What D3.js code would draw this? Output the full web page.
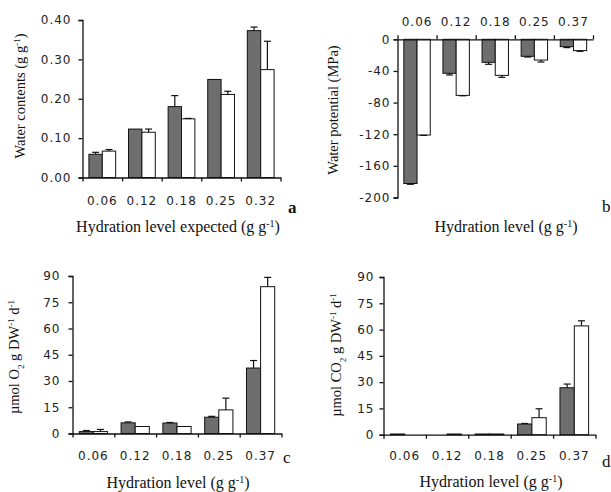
<!DOCTYPE html>
<html>
<head>
<meta charset="utf-8">
<script src="https://cdn.jsdelivr.net/npm/d3@7"></script>
<style>
  body { margin: 0; background: #fff; }
  .tick text { font-family: "DejaVu Sans", sans-serif; font-size: 12px; fill: #222; letter-spacing: 1px; }
  .ttl { font-family: "Liberation Serif", "Times New Roman", serif; fill: #111; }
</style>
</head>
<body>
<svg id="chart" width="611" height="492"></svg>
<script>
// categories
var levelsA = ["0.06", "0.12", "0.18", "0.25", "0.32"];
var levels = ["0.06", "0.12", "0.18", "0.25", "0.37"];

// a : water contents (g g-1)
var waterGray = [0.059, 0.123, 0.180, 0.249, 0.373],
    waterGrayErr = [0.005, 0, 0.028, 0, 0.009];
var waterWhite = [0.067, 0.115, 0.149, 0.211, 0.274],
    waterWhiteErr = [0.004, 0.008, 0.001, 0.008, 0.072];

// b : water potential (MPa)
var potGray = [-182.3, -43, -29.1, -21.5, -9.3],
    potGrayErr = [1, 2.1, 2.5, 0.9, 1.2];
var potWhite = [-121, -70.9, -45.6, -26.2, -14.3],
    potWhiteErr = [0.5, 0.5, 2.5, 2.5, 0.9];

// c : O2
var o2Gray = [1.1, 6.1, 6.0, 9.3, 37.4],
    o2GrayErr = [0.6, 0.5, 0.3, 0.5, 4.3];
var o2White = [1.1, 4.0, 4.0, 13.5, 83.9],
    o2WhiteErr = [1.2, 0, 0, 6.7, 5.3];

// d : CO2
var co2Gray = [0.4, 0, 0.4, 6.1, 26.8],
    co2GrayErr = [0, 0, 0, 0.3, 2.1];
var co2White = [0, 0.4, 0.4, 9.7, 62.1],
    co2WhiteErr = [0, 0, 0, 5.1, 2.9];

var ticksA = [0, 0.1, 0.2, 0.3, 0.4],
    ticksB = [0, -40, -80, -120, -160, -200],
    ticksCD = [0, 15, 30, 45, 60, 75, 90];

var svg = d3.select("#chart");
var grayFill = "#6e6e6e";

function drawPanel(p) {
  var g = svg.append("g");
  var x = d3.scaleBand().domain(p.cats).range(p.xr);
  var inner = d3.scaleBand().domain(["g", "w"]).range([0, x.bandwidth()]).paddingOuter(0.48);
  var y = d3.scaleLinear().domain(p.yd).range(p.yr);
  var y0 = y(0);

  var rows = [];
  p.cats.forEach(function(c, i) {
    rows.push({c: c, s: "g", v: p.gray[i], e: p.grayErr[i]});
    rows.push({c: c, s: "w", v: p.white[i], e: p.whiteErr[i]});
  });

  g.selectAll("rect.bar").data(rows).enter().append("rect")
    .attr("class", "bar")
    .attr("x", function(d) { return x(d.c) + inner(d.s); })
    .attr("width", inner.bandwidth())
    .attr("y", function(d) { return Math.min(y(d.v), y0); })
    .attr("height", function(d) { return Math.abs(y(d.v) - y0); })
    .attr("fill", function(d) { return d.s == "g" ? grayFill : "#fff"; })
    .attr("stroke", "#111")
    .attr("stroke-width", 1);

  // error bars (one-sided, away from zero)
  var errs = rows.filter(function(d) { return d.e > 0; });
  var end = function(d) { return y(d.v + (d.v < 0 ? -d.e : d.e)); };
  var cx = function(d) { return x(d.c) + inner(d.s) + inner.bandwidth() / 2; };
  g.selectAll("line.err").data(errs).enter().append("line")
    .attr("class", "err")
    .attr("x1", cx).attr("x2", cx)
    .attr("y1", function(d) { return y(d.v); }).attr("y2", end)
    .attr("stroke", "#111").attr("stroke-width", 1.2);
  g.selectAll("line.cap").data(errs).enter().append("line")
    .attr("class", "cap")
    .attr("x1", function(d) { return cx(d) - 3.5; }).attr("x2", function(d) { return cx(d) + 3.5; })
    .attr("y1", end).attr("y2", end)
    .attr("stroke", "#111").attr("stroke-width", 1.2);

  // y axis
  g.append("g").attr("transform", "translate(" + p.xr[0] + ",0)")
    .call(d3.axisLeft(y).tickValues(p.yticks).tickFormat(p.fmt).tickSize(4).tickPadding(p.ypad))
    .call(function(a) { a.selectAll("path, line").attr("stroke", "#111").attr("stroke-width", 1.3); });

  // x axis: labels at band centres, ticks at band edges
  var top = p.top;
  var xa = top ? d3.axisTop(x) : d3.axisBottom(x);
  g.append("g").attr("transform", "translate(0," + y0 + ")")
    .call(xa.tickSize(0).tickPadding(p.xpad))
    .call(function(a) { a.select(".domain").attr("stroke", "#111").attr("stroke-width", 1.3); });
  var edge = d3.scaleLinear().domain([0, p.cats.length]).range(p.xr);
  var ea = top ? d3.axisTop(edge) : d3.axisBottom(edge);
  g.append("g").attr("transform", "translate(0," + y0 + ")")
    .call(ea.ticks(p.cats.length).tickFormat("").tickSize(4).tickSizeOuter(0))
    .call(function(a) {
      a.select(".domain").remove();
      a.selectAll("line").attr("stroke", "#111").attr("stroke-width", 1.3);
    });

  // titles
  var yt = g.append("text").attr("class", "ttl")
    .attr("transform", "translate(" + p.ytPos[0] + "," + p.ytPos[1] + ") rotate(-90)")
    .attr("text-anchor", "middle").style("font-size", "14.5px");
  p.ytitle.forEach(function(t) {
    var s = yt.append("tspan").text(t[0]);
    if (t[1] == "sup") s.attr("baseline-shift", "super").style("font-size", "9px");
    if (t[1] == "sub") s.attr("baseline-shift", "sub").style("font-size", "9px");
  });

  var xt = g.append("text").attr("class", "ttl")
    .attr("x", p.xtPos[0]).attr("y", p.xtPos[1])
    .attr("text-anchor", "middle").style("font-size", "16px");
  xt.append("tspan").text(p.xtitle);
  xt.append("tspan").text("-1").attr("baseline-shift", "super").style("font-size", "10px");
  xt.append("tspan").text(")");

  g.append("text").attr("class", "ttl")
    .attr("x", p.letterPos[0]).attr("y", p.letterPos[1])
    .style("font-size", "17px").style("font-weight", p.bold ? "bold" : "normal")
    .text(p.letter);
}

drawPanel({
  cats: levelsA, gray: waterGray, grayErr: waterGrayErr, white: waterWhite, whiteErr: waterWhiteErr,
  xr: [82.5, 280.5], yd: [0, 0.4], yr: [177.5, 20], yticks: ticksA, fmt: d3.format(".2f"),
  ypad: 7, xpad: 18.5, top: false,
  ytitle: [["Water contents (g g"], ["-1", "sup"], [")"]], ytPos: [25, 96],
  xtitle: "Hydration level expected (g g", xtPos: [178, 232],
  letter: "a", letterPos: [288, 213], bold: true
});

drawPanel({
  cats: levels, gray: potGray, grayErr: potGrayErr, white: potWhite, whiteErr: potWhiteErr,
  xr: [397.5, 593], yd: [0, -200], yr: [39.3, 197.5], yticks: ticksB, fmt: function(d) { return String(d); },
  ypad: 3, xpad: 13, top: true,
  ytitle: [["Water potential (MPa)"]], ytPos: [338, 110],
  xtitle: "Hydration level (g g", xtPos: [506, 232],
  letter: "b", letterPos: [602, 212], bold: false
});

drawPanel({
  cats: levels, gray: o2Gray, grayErr: o2GrayErr, white: o2White, whiteErr: o2WhiteErr,
  xr: [72.5, 281.5], yd: [0, 90], yr: [433.5, 276], yticks: ticksCD, fmt: function(d) { return String(d); },
  ypad: 8, xpad: 17.5, top: false,
  ytitle: [["\u00b5mol O"], ["2", "sub"], [" g DW"], ["-1", "sup"], [" d"], ["-1", "sup"]], ytPos: [19, 357],
  xtitle: "Hydration level (g g", xtPos: [178, 488],
  letter: "c", letterPos: [283, 463], bold: false
});

drawPanel({
  cats: levels, gray: co2Gray, grayErr: co2GrayErr, white: co2White, whiteErr: co2WhiteErr,
  xr: [383.5, 595.5], yd: [0, 90], yr: [434.7, 277], yticks: ticksCD, fmt: function(d) { return String(d); },
  ypad: 5, xpad: 17, top: false,
  ytitle: [["\u00b5mol CO"], ["2", "sub"], [" g DW"], ["-1", "sup"], [" d"], ["-1", "sup"]], ytPos: [341, 355],
  xtitle: "Hydration level (g g", xtPos: [491, 487],
  letter: "d", letterPos: [602, 467], bold: false
});
</script>
</body>
</html>
